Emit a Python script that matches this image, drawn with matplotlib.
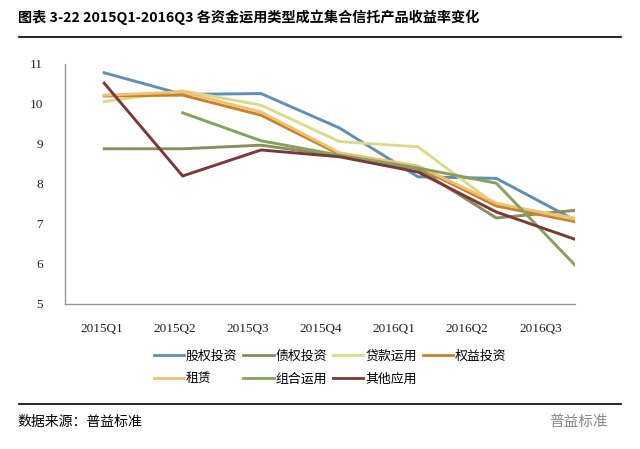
import numpy as np
import matplotlib.pyplot as plt
from matplotlib.lines import Line2D

plt.rcParams['font.family'] = ['Noto Sans CJK SC', 'DejaVu Sans']

quarters = ['2015Q1', '2015Q2', '2015Q3', '2015Q4', '2016Q1', '2016Q2', '2016Q3']
names = ['股权投资', '债权投资', '贷款运用', '权益投资', '租赁', '组合运用', '其他应用']
guquan = [10.78, 10.24, 10.26, 9.40, 8.18, 8.14, 7.10]
zhaiquan = [8.88, 8.88, 8.97, 8.70, 8.38, 7.15, 7.34]
daikuan = [10.06, 10.33, 9.97, 9.06, 8.93, 7.47, 7.15]
quanyi = [10.20, 10.22, 9.72, 8.74, 8.42, 7.45, 7.06]
zulin = [10.22, 10.30, 9.80, 8.78, 8.45, 7.52, 7.12]
zuhe = [np.nan, 9.78, 9.08, 8.72, 8.40, 8.02, 5.98]
qita = [10.52, 8.20, 8.85, 8.68, 8.30, 7.30, 6.62]

series = [guquan, zhaiquan, daikuan, quanyi, zulin, zuhe, qita]
colors = ['#5f8fb5', '#8c8c62', '#dcd98e', '#c9812c', '#f1c172', '#86a05e', '#7b3838']

fig = plt.figure(figsize=(6.4, 4.49), dpi=100)
ax = fig.add_axes([0.1016, 0.323, 0.7964, 0.5345])

x = np.arange(len(quarters))
for s, c in zip(series, colors):
    ax.plot(x, s, color=c, lw=2.1, solid_joinstyle='round')

ax.set_xlim(-0.5, 6.0)
ax.set_ylim(5, 11)
ax.set_yticks(range(5, 12))
ax.set_yticklabels([str(v) for v in range(5, 12)], family='Liberation Serif', fontsize=9.5, color='#222222')
# labels in the picture sit a bit tighter than the points
ax.set_xticks(x * 0.932 - 0.03)
ax.set_xticklabels(quarters, family='Liberation Serif', fontsize=9.5, color='#222222')
ax.tick_params(length=0)
ax.tick_params(axis='y', pad=16)
ax.tick_params(axis='x', pad=14)
for sp in ['top', 'right']:
    ax.spines[sp].set_visible(False)
for sp in ['left', 'bottom']:
    ax.spines[sp].set_color('#999999')
    ax.spines[sp].set_linewidth(1.0)

handles = [Line2D([], [], color=c, lw=2) for c in colors]
order = [0, 4, 1, 5, 2, 6, 3]
fig.legend([handles[i] for i in order], [names[i] for i in order], ncol=4,
           loc='upper left', bbox_to_anchor=(0.222, 0.247), frameon=False,
           fontsize=9.3, handlelength=2.35, handletextpad=0.15, columnspacing=0.45,
           labelspacing=0.75)

fig.text(0.028, 0.962, '图表 3-22 2015Q1-2016Q3 各资金运用类型成立集合信托产品收益率变化',
         fontsize=10.2, fontweight='bold', va='center', ha='left')
fig.add_artist(Line2D([0.03, 0.97], [0.918, 0.918], color='black', lw=1.2))
fig.add_artist(Line2D([0.03, 0.97], [0.100, 0.100], color='black', lw=1.2))
fig.text(0.028, 0.060, '数据来源：普益标准', fontsize=10, style='italic', va='center', ha='left')
fig.text(0.95, 0.060, '普益标准', fontsize=10.5, color='#888888', va='center', ha='right')

fig.savefig('out.png', dpi=100, facecolor='white')
